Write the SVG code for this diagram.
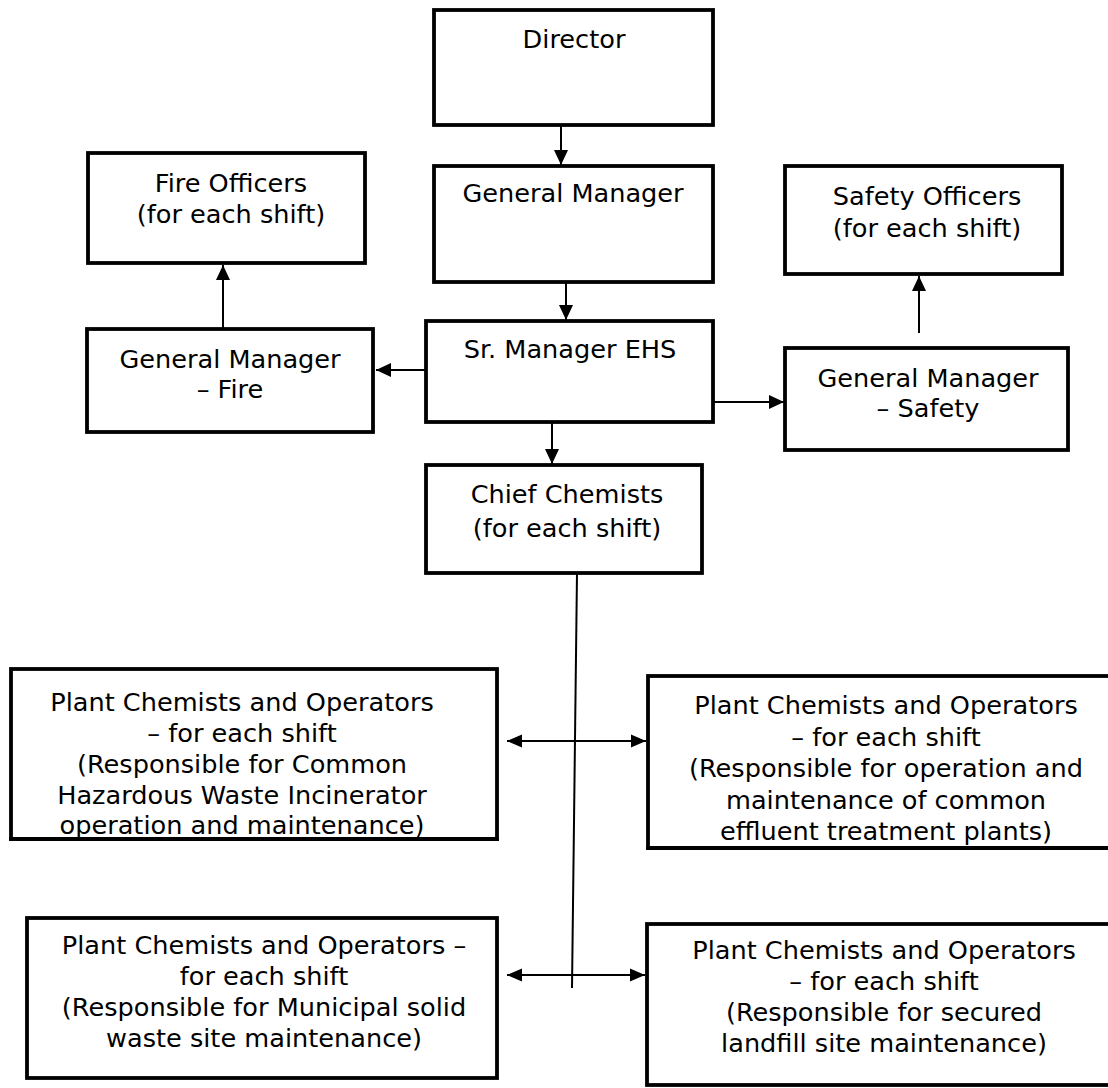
<svg xmlns="http://www.w3.org/2000/svg" width="1108" height="1088" viewBox="0 0 1108 1088">
<style>
.box{fill:#fff;stroke:#000;stroke-width:3.8}
.t{font-family:"DejaVu Sans","Liberation Sans",sans-serif;font-size:25.6px;fill:#000;text-anchor:middle}
.c{stroke:#000;stroke-width:2;fill:none}
</style>
<defs>
<marker id="ah" markerWidth="16" markerHeight="16" refX="15" refY="8" orient="auto" markerUnits="userSpaceOnUse">
<path d="M0,1 L15,8 L0,15 Z" fill="#000"/>
</marker>
<marker id="ahs" markerWidth="16" markerHeight="16" refX="15" refY="8" orient="auto-start-reverse" markerUnits="userSpaceOnUse">
<path d="M0,1.5 L15,8 L0,14.5 Z" fill="#000"/>
</marker>
</defs>
<rect width="1108" height="1088" fill="#fff"/>
<g id="connectors">
<line class="c" x1="561" y1="125" x2="561" y2="165" marker-end="url(#ah)"/>
<line class="c" x1="566" y1="282" x2="566" y2="320" marker-end="url(#ah)"/>
<line class="c" x1="425" y1="370" x2="376" y2="370" marker-end="url(#ah)"/>
<line class="c" x1="223" y1="329" x2="223" y2="265" marker-end="url(#ah)"/>
<line class="c" x1="713" y1="402" x2="784" y2="402" marker-end="url(#ah)"/>
<line class="c" x1="919" y1="333" x2="919" y2="276" marker-end="url(#ah)"/>
<line class="c" x1="552" y1="422" x2="552" y2="464" marker-end="url(#ah)"/>
<line class="c" x1="577" y1="573" x2="572" y2="988"/>
<line class="c" x1="507" y1="741" x2="646" y2="741" marker-start="url(#ahs)" marker-end="url(#ahs)"/>
<line class="c" x1="507" y1="975" x2="645" y2="975" marker-start="url(#ahs)" marker-end="url(#ahs)"/>
</g>
<g id="director">
<rect class="box" x="434" y="10" width="279" height="115"/>
<text class="t" x="574" y="48">Director</text>
</g>
<g id="general-manager">
<rect class="box" x="434" y="166" width="279" height="116"/>
<text class="t" x="573" y="202">General Manager</text>
</g>
<g id="fire-officers">
<rect class="box" x="88" y="153" width="277" height="110"/>
<text class="t" x="231" y="192">Fire Officers</text>
<text class="t" x="231" y="223">(for each shift)</text>
</g>
<g id="gm-fire">
<rect class="box" x="87" y="329" width="286" height="103"/>
<text class="t" x="230" y="368">General Manager</text>
<text class="t" x="230" y="398">– Fire</text>
</g>
<g id="sr-manager-ehs">
<rect class="box" x="426" y="321" width="287" height="101"/>
<text class="t" x="570" y="358">Sr. Manager EHS</text>
</g>
<g id="safety-officers">
<rect class="box" x="785" y="166" width="277" height="108"/>
<text class="t" x="927" y="205">Safety Officers</text>
<text class="t" x="927" y="237">(for each shift)</text>
</g>
<g id="gm-safety">
<rect class="box" x="785" y="348" width="283" height="102"/>
<text class="t" x="928" y="387">General Manager</text>
<text class="t" x="928" y="417">– Safety</text>
</g>
<g id="chief-chemists">
<rect class="box" x="426" y="465" width="276" height="108"/>
<text class="t" x="567" y="503">Chief Chemists</text>
<text class="t" x="567" y="537">(for each shift)</text>
</g>
<g id="plant-incinerator">
<rect class="box" x="11" y="669" width="486" height="170"/>
<text class="t" x="242" y="711">Plant Chemists and Operators</text>
<text class="t" x="242" y="742">– for each shift</text>
<text class="t" x="242" y="773">(Responsible for Common</text>
<text class="t" x="242" y="804">Hazardous Waste Incinerator</text>
<text class="t" x="242" y="834">operation and maintenance)</text>
<rect x="13" y="838" width="482" height="8" fill="#fff"/>
<line x1="9.1" y1="839" x2="498.9" y2="839" stroke="#000" stroke-width="3.8"/>
</g>
<g id="plant-effluent">
<rect class="box" x="648" y="676" width="470" height="172"/>
<text class="t" x="886" y="714">Plant Chemists and Operators</text>
<text class="t" x="886" y="746">– for each shift</text>
<text class="t" x="886" y="777">(Responsible for operation and</text>
<text class="t" x="886" y="809">maintenance of common</text>
<text class="t" x="886" y="840">effluent treatment plants)</text>
<rect x="650" y="847" width="470" height="8" fill="#fff"/>
<line x1="646.1" y1="848" x2="1120" y2="848" stroke="#000" stroke-width="3.8"/>
</g>
<g id="plant-municipal">
<rect class="box" x="27" y="918" width="470" height="160"/>
<text class="t" x="264" y="954">Plant Chemists and Operators –</text>
<text class="t" x="264" y="985">for each shift</text>
<text class="t" x="264" y="1016">(Responsible for Municipal solid</text>
<text class="t" x="264" y="1047">waste site maintenance)</text>
</g>
<g id="plant-landfill">
<rect class="box" x="647" y="924" width="473" height="161"/>
<text class="t" x="884" y="959">Plant Chemists and Operators</text>
<text class="t" x="884" y="990">– for each shift</text>
<text class="t" x="884" y="1021">(Responsible for secured</text>
<text class="t" x="884" y="1052">landfill site maintenance)</text>
</g>
</svg>
